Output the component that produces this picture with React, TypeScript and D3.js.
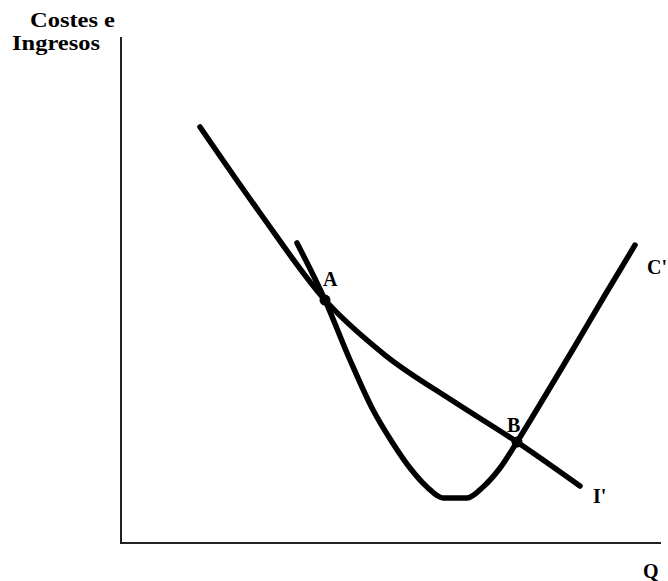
import React from "react";
import * as d3 from "d3";

// Average revenue curve I' (quantity, value)
const incomeQ = [14.63, 25.74, 37.78, 48.89, 61.48, 73.33, 85.0];
const incomeV = [82.21, 65.22, 48.02, 37.15, 28.06, 19.96, 11.26];

// Average cost curve C' (quantity, value)
const costQ = [32.59, 37.78, 42.41, 46.48, 50.19, 53.52, 56.67, 59.63, 64.07, 67.04, 70.19, 73.33, 78.52, 84.07, 89.63, 95.19];
const costV = [59.29, 48.02, 36.17, 26.68, 19.96, 14.82, 11.07, 8.9, 8.9, 11.07, 14.82, 19.96, 29.05, 38.93, 49.01, 58.89];

// Intersection points
const pointNames = ["A", "B"];
const pointQ = [37.78, 73.33];
const pointV = [48.02, 19.96];

const yTitle = ["Costes e", "Ingresos"];
const xTitle = "Q";
const curveNames = ["C'", "I'"];

const W = 668;
const H = 581;

export default function App() {
  const x = d3.scaleLinear().domain([0, 100]).range([121, 661]);
  const y = d3.scaleLinear().domain([0, 100]).range([543, 37]);

  const line = d3
    .line<[number, number]>()
    .x((d) => x(d[0]))
    .y((d) => y(d[1]))
    .curve(d3.curveMonotoneX);

  const income = incomeQ.map((q, i) => [q, incomeV[i]] as [number, number]);
  const cost = costQ.map((q, i) => [q, costV[i]] as [number, number]);

  const font = "'Liberation Serif', 'Times New Roman', serif";

  return (
    <svg
      width={W}
      height={H}
      style={{ position: "absolute", left: 0, top: 0, background: "#fff" }}
    >
      {/* axes */}
      <line x1={x(0)} y1={y(100)} x2={x(0)} y2={y(0) + 1} stroke="#222" strokeWidth={2} />
      <line x1={x(0)} y1={y(0)} x2={x(100)} y2={y(0)} stroke="#222" strokeWidth={2} />

      {/* curves */}
      <path d={line(income) ?? ""} fill="none" stroke="#000" strokeWidth={5.5} strokeLinecap="round" strokeLinejoin="round" />
      <path d={line(cost) ?? ""} fill="none" stroke="#000" strokeWidth={5.5} strokeLinecap="round" strokeLinejoin="round" />

      {/* intersection points */}
      {pointNames.map((n, i) => (
        <circle key={n} cx={x(pointQ[i])} cy={y(pointV[i])} r={5.5} fill="#000" />
      ))}

      <g fontFamily={font} fontWeight="bold" fill="#000">
        <text x={30} y={27} fontSize={21} textLength={85} lengthAdjust="spacingAndGlyphs">
          {yTitle[0]}
        </text>
        <text x={12} y={50} fontSize={21} textLength={88} lengthAdjust="spacingAndGlyphs">
          {yTitle[1]}
        </text>
        <text x={x(pointQ[0]) - 2} y={y(pointV[0]) - 14} fontSize={20}>
          {pointNames[0]}
        </text>
        <text x={x(pointQ[1]) - 10} y={y(pointV[1]) - 10} fontSize={20}>
          {pointNames[1]}
        </text>
        <text x={647} y={274} fontSize={20}>
          {curveNames[0]}
        </text>
        <text x={593} y={503} fontSize={20}>
          {curveNames[1]}
        </text>
        <text x={643} y={578} fontSize={20}>
          {xTitle}
        </text>
      </g>
    </svg>
  );
}
